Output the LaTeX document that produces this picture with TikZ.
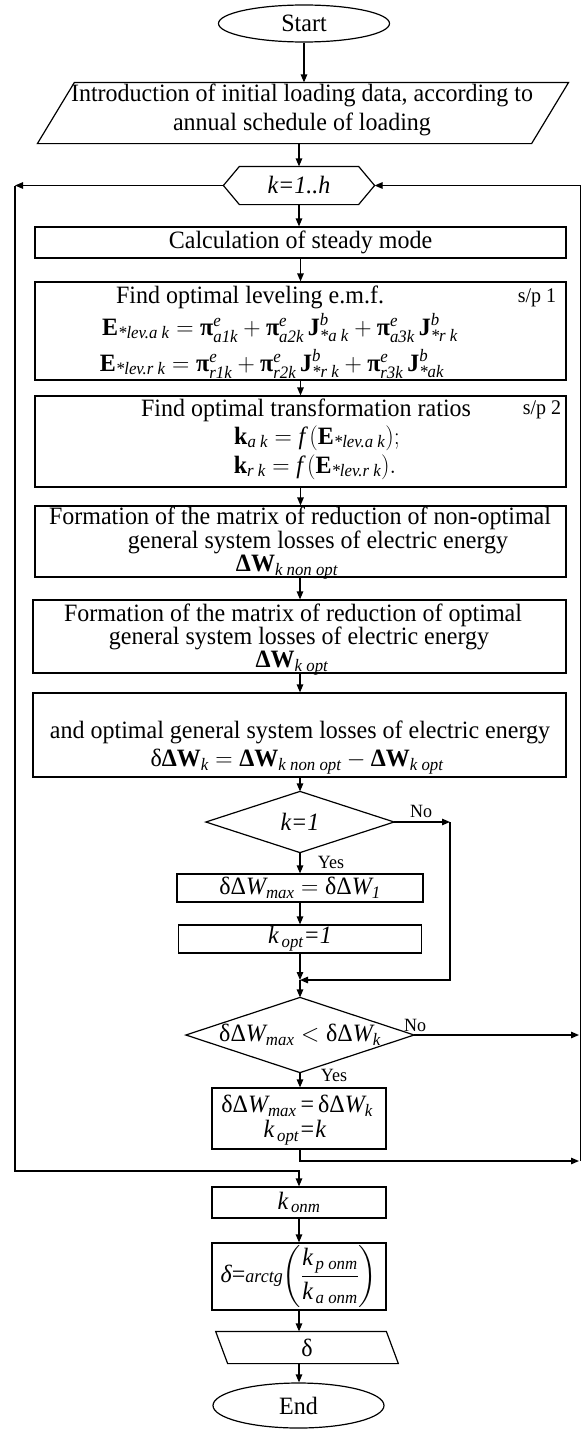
\RequirePackage{fix-cm}
\documentclass[tikz,border=0pt]{standalone}
\usepackage{amsmath}
\usepackage{graphicx}
\usepackage{fontspec}
\setmainfont{Liberation Serif}
\usetikzlibrary{shapes.geometric,arrows.meta,calc}
\newcommand\vs[1]{\scalebox{1}[1.04]{#1}}
\newcommand\bt[1]{\textbf{#1}}
\newcommand\ti[1]{\textit{#1}}
\begin{document}
\begin{tikzpicture}[x=1pt,y=-1pt,line width=1.2pt,
  font=\fontsize{24}{26}\selectfont,
  box/.style={draw,rectangle,inner sep=0pt},
  txt/.style={inner sep=0pt},
  arr/.style={-{Triangle[length=8pt,width=6.5pt]}},
  lbl/.style={inner sep=0pt,font=\fontsize{18}{20}\selectfont},
  spl/.style={inner sep=0pt,font=\fontsize{20}{22}\selectfont}]
\fill[white] (0,0) rectangle (581,1429);
\useasboundingbox (0,0) rectangle (581,1429);

% Start
\node[ellipse,draw,inner sep=0pt,minimum width=171pt,minimum height=37pt] (start) at (304,23.5) {\vs{Start}};

% Input parallelogram
\node[inner sep=0pt,minimum width=493pt,minimum height=60pt] (intro) at (303,113) {};
\draw ([xshift=18.5pt]intro.north west) -- ([xshift=18.5pt]intro.north east) -- ([xshift=-18.5pt]intro.south east) -- ([xshift=-18.5pt]intro.south west) -- cycle;
\node[txt] (introA) at (302,95) {\vs{Introduction of initial loading data, according to}};
\node[txt] (introB) at (302,124) {\vs{annual schedule of loading}};

% Loop hexagon
\node[inner sep=0pt,minimum width=150pt,minimum height=37pt] (hex) at (299,185.5) {\vs{\ti{k=1..h}}};
\draw (hex.west) -- ([xshift=16pt]hex.north west) -- ([xshift=-16pt]hex.north east) -- (hex.east) -- ([xshift=-16pt]hex.south east) -- ([xshift=16pt]hex.south west) -- cycle;

% Box 1
\node[box,minimum width=531pt,minimum height=31pt] (b1) at (300.5,242.5) {\vs{Calculation of steady mode}};

% Box 2
\node[box,minimum width=531pt,minimum height=98pt] (b2) at (300.5,331) {};
\node[txt] (b2a) at (250,297) {\vs{Find optimal leveling e.m.f.}};
\node[spl] (b2s) at (537,298) {\vs{s/p 1}};
\node[txt] (b2b) at (280,328) {\vs{$\bt{E}_{\ti{*lev.a k}} = \bt{π}^{\ti{e}}_{\ti{a1k}} + \bt{π}^{\ti{e}}_{\ti{a2k}}\,\bt{J}^{\ti{b}}_{\ti{*a k}} + \bt{π}^{\ti{e}}_{\ti{a3k}}\,\bt{J}^{\ti{b}}_{\ti{*r k}}$}};
\node[txt] (b2c) at (272,364) {\vs{$\bt{E}_{\ti{*lev.r k}} = \bt{π}^{\ti{e}}_{\ti{r1k}} + \bt{π}^{\ti{e}}_{\ti{r2k}}\,\bt{J}^{\ti{b}}_{\ti{*r k}} + \bt{π}^{\ti{e}}_{\ti{r3k}}\,\bt{J}^{\ti{b}}_{\ti{*ak}}$}};

% Box 3
\node[box,minimum width=531pt,minimum height=91pt] (b3) at (300.5,441.5) {};
\node[txt] (b3a) at (306,410) {\vs{Find optimal transformation ratios}};
\node[spl] (b3s) at (542,410) {\vs{s/p 2}};
\node[txt] (b3b) at (317,438) {\vs{$\bt{k}_{\ti{a k}} = \ti{f}\,(\bt{E}_{\ti{*lev.a k}});$}};
\node[txt] (b3c) at (315,467) {\vs{$\bt{k}_{\ti{r k}} = \ti{f}\,(\bt{E}_{\ti{*lev.r k}}).$}};

% Box 4
\node[box,minimum width=531pt,minimum height=71pt] (b4) at (300.5,541.5) {};
\node[txt] (b4a) at (300,518) {\vs{Formation of the matrix of reduction of non-optimal}};
\node[txt] (b4b) at (318,542) {\vs{general system losses of electric energy}};
\node[txt] (b4c) at (287,567) {\vs{$\bt{ΔW}_{\ti{k non opt}}$}};

% Box 5
\node[box,minimum width=533pt,minimum height=73pt] (b5) at (299.5,636.5) {};
\node[txt] (b5a) at (293,615) {\vs{Formation of the matrix of reduction of optimal}};
\node[txt] (b5b) at (299,638) {\vs{general system losses of electric energy}};
\node[txt] (b5c) at (292,663) {\vs{$\bt{ΔW}_{\ti{k opt}}$}};

% Box 6
\node[box,minimum width=533pt,minimum height=84pt] (b6) at (299.5,735) {};
\node[txt] (b6a) at (300,732) {\vs{and optimal general system losses of electric energy}};
\node[txt] (b6b) at (297,762) {\vs{$\text{δ}\bt{ΔW}_{\ti{k}} = \bt{ΔW}_{\ti{k non opt}} - \bt{ΔW}_{\ti{k opt}}$}};

% Decision 1
\node[inner sep=0pt,minimum width=187pt,minimum height=60pt] (d1) at (300,822) {\vs{\ti{k=1}}};
\draw (d1.west) -- (d1.north) -- (d1.east) -- (d1.south) -- cycle;
\node[box,minimum width=246pt,minimum height=28pt] (b7) at (300,888) {\vs{$\text{δΔ}\ti{W}_{\ti{max}} = \text{δΔ}\ti{W}_{\ti{1}}$}};
\node[box,minimum width=243pt,minimum height=28pt] (b8) at (300,939) {\vs{$\ti{k}_{\,\ti{opt}}$\ti{=1}}};
\coordinate (N1) at (450,822);
\coordinate (J1) at (300,980);
\node[lbl] (no1) at (421,811) {\vs{No}};
\node[lbl] (yes1) at (331,862) {\vs{Yes}};

% Decision 2
\node[inner sep=0pt,minimum width=227pt,minimum height=74pt] (d2) at (300,1035) {\vs{$\text{δΔ}\ti{W}_{\ti{max}} < \text{δΔ}\ti{W}_{\ti{k}}$}};
\draw (d2.west) -- (d2.north) -- (d2.east) -- (d2.south) -- cycle;
\node[lbl] (no2) at (415,1025) {\vs{No}};
\node[lbl] (yes2) at (334,1075) {\vs{Yes}};
\node[box,minimum width=174pt,minimum height=61pt] (b9) at (299,1118.5) {};
\node[txt] (b9a) at (297,1106) {\vs{$\text{δΔ}\ti{W}_{\ti{max}} \,\text{=}\, \text{δΔ}\ti{W}_{\ti{k}}$}};
\node[txt] (b9b) at (295,1133) {\vs{$\ti{k}_{\,\ti{opt}}$\ti{=k}}};

% Right and left loop points
\coordinate (R1) at (579,1035);
\coordinate (R2) at (579,1161);
\coordinate (R2b) at (580.5,1161);
\coordinate (R3) at (580.5,185.5);
\coordinate (L1) at (15,185.5);
\coordinate (L2) at (15,1171);

% Results
\node[box,minimum width=174pt,minimum height=31pt] (konm) at (299,1202.5) {\vs{$\ti{k}_{\,\ti{onm}}$}};
\node[box,minimum width=174pt,minimum height=67pt] (arc) at (299,1276.5) {\vs{$\ti{δ}$=\ti{\fontsize{18}{20}\selectfont arctg}$\left(\dfrac{\ti{k}_{\,\ti{p onm}}}{\ti{k}_{\,\ti{a onm}}}\right)$}};
\node[inner sep=0pt,minimum width=169.5pt,minimum height=31pt] (dpar) at (307,1347.5) {\vs{δ}};
\draw ([xshift=-6pt]dpar.north west) -- ([xshift=-6pt]dpar.north east) -- ([xshift=6pt]dpar.south east) -- ([xshift=6pt]dpar.south west) -- cycle;
\node[ellipse,draw,inner sep=0pt,minimum width=171pt,minimum height=45pt] (end) at (298.5,1405.5) {\vs{End}};

% Connectors
\draw[arr] (start.south) -- (start.south |- intro.north);
\draw[arr] (intro.south -| hex.north) -- (hex.north);
\draw[arr] (hex.south) -- (hex.south |- b1.north);
\draw[arr] (b1.south) -- (b2.north);
\draw[arr] (b2.south) -- (b3.north);
\draw[arr] (b3.south) -- (b4.north);
\draw[arr] (b4.south -| d1.north) -- (b5.north -| d1.north);
\draw[arr] (b5.south -| d1.north) -- (b6.north -| d1.north);
\draw[arr] (b6.south -| d1.north) -- (d1.north);
\draw[arr] (d1.south) -- (b7.north);
\draw[arr] (b7.south) -- (b8.north);
\draw[arr] (d1.east) -- (N1);
\draw[arr] (N1) |- (J1);
\draw[arr] (b8.south) -- (J1);
\draw[arr] (J1) -- (d2.north);
\draw[arr] (d2.south) -- (d2.south |- b9.north);
\draw[arr] (d2.east) -- (R1);
\draw[arr] (b9.south -| d2.south) |- (R2);
\draw[arr] (R2b) -- (R3) -- (hex.east);
\draw[arr] (hex.west) -- (L1);
\draw[arr] (L1) -- (L2) -| (konm.north);
\draw[arr] (konm.south) -- (arc.north);
\draw[arr] (arc.south) -- (arc.south |- dpar.north);
\draw[arr] (arc.south |- dpar.south) -- (arc.south |- end.north);
\end{tikzpicture}
\end{document}
